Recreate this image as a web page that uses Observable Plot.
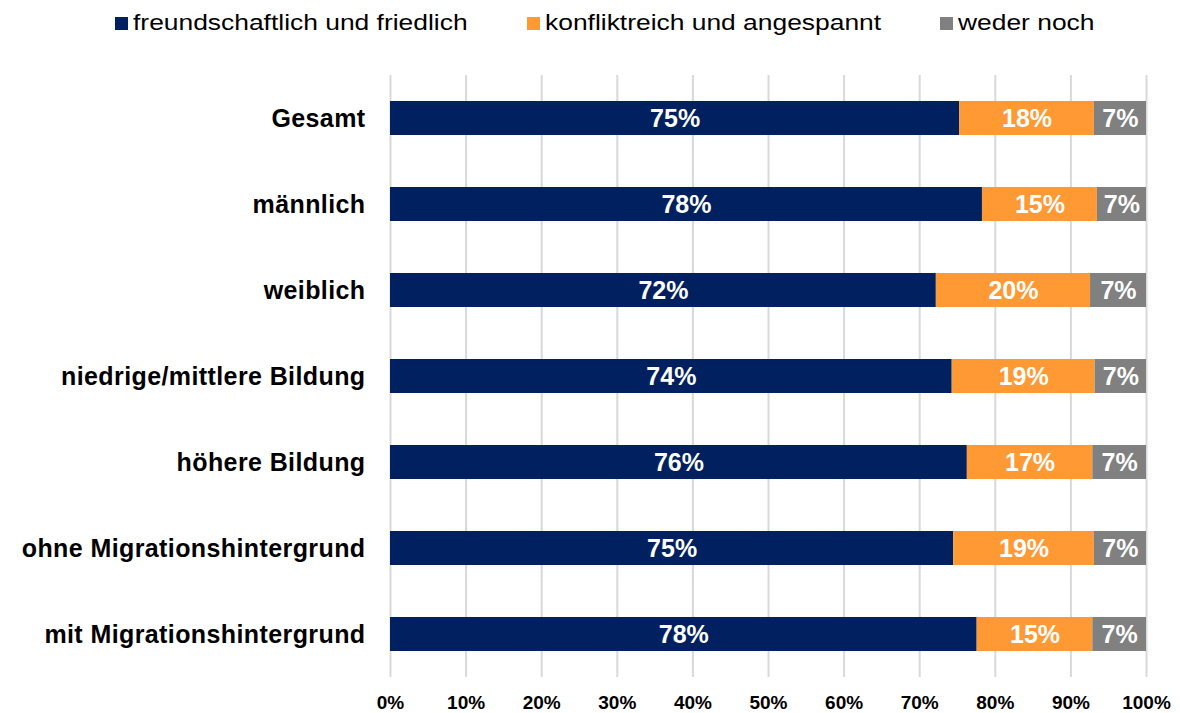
<!DOCTYPE html>
<html><head><meta charset="utf-8">
<script src="https://cdn.jsdelivr.net/npm/d3@7"></script>
<script src="https://cdn.jsdelivr.net/npm/@observablehq/plot@0.6"></script>
<style>
body{margin:0;background:#fff;font-family:"Liberation Sans",Arial,sans-serif;}
#legend{position:relative;height:45px;width:1180px;}
.item{position:absolute;top:10px;display:flex;align-items:center;font-size:22px;color:#000;white-space:nowrap;}
.sw{width:13px;height:13px;margin-right:5px;flex:none;}
.lt{display:inline-block;transform:scaleX(1.2);transform-origin:left center;}
</style></head><body>
<div id="legend"></div><div id="chart"></div>
<script>
const groups = ["Gesamt","männlich","weiblich","niedrige/mittlere Bildung","höhere Bildung","ohne Migrationshintergrund","mit Migrationshintergrund"];
const seriesNames = ["freundschaftlich und friedlich","konfliktreich und angespannt","weder noch"];
const colors = ["#002060","#FF9933","#808080"];
const friendly = [75.3,78.3,72.2,74.3,76.3,74.5,77.6];
const conflict = [17.8,15.2,20.4,18.9,16.6,18.6,15.3];
const neither  = [6.9,6.5,7.4,6.8,7.1,6.9,7.1];
const friendlyLabels = [75,78,72,74,76,75,78];
const conflictLabels = [18,15,20,19,17,19,15];
const neitherLabels  = [7,7,7,7,7,7,7];
const xTicks = [0,10,20,30,40,50,60,70,80,90,100];
const legendLeft = [115,527,940];

const values = [friendly, conflict, neither];
const labels = [friendlyLabels, conflictLabels, neitherLabels];
const data = [];
seriesNames.forEach((s, si) => groups.forEach((g, gi) => data.push({group: g, series: s, value: values[si][gi], label: labels[si][gi] + "%"})));

const leg = document.getElementById("legend");
seriesNames.forEach((s, i) => {
  const d = document.createElement("div");
  d.className = "item"; d.style.left = legendLeft[i] + "px";
  d.innerHTML = `<span class="sw" style="background:${colors[i]}"></span><span class="lt">${s}</span>`;
  leg.appendChild(d);
});

const chart = Plot.plot({
  width: 1180, height: 668,
  marginLeft: 390, marginRight: 34, marginTop: 30, marginBottom: 36,
  style: {fontFamily: '"Liberation Sans", Arial, sans-serif', background: "#fff", color: "#000"},
  x: {domain: [0, 100], ticks: xTicks},
  y: {domain: groups, paddingInner: 0.6, paddingOuter: 0.3, align: 0.5},
  color: {domain: seriesNames, range: colors},
  marks: [
    Plot.ruleX(xTicks, {stroke: "#d9d9d9", strokeWidth: 2}),
    Plot.barX(data, Plot.stackX({x: "value", y: "group", fill: "series", order: seriesNames, inset: 0})),
    Plot.textX(data, Plot.stackX({x: "value", y: "group", z: "series", order: seriesNames, text: "label", fill: "white", fontWeight: "bold", fontSize: 25})),
    Plot.axisX({ticks: xTicks, tickSize: 0, tickPadding: 18, tickFormat: d => d + "%", fontSize: 19, fontWeight: "bold", label: null}),
    Plot.axisY({tickSize: 0, tickPadding: 25, fontSize: 25, fontWeight: "bold", label: null})
  ]
});
d3.select(chart).selectAll("g[aria-label='y-axis tick label'] text").style("letter-spacing", "0.4px");
document.getElementById("chart").appendChild(chart);
</script>
</body></html>
